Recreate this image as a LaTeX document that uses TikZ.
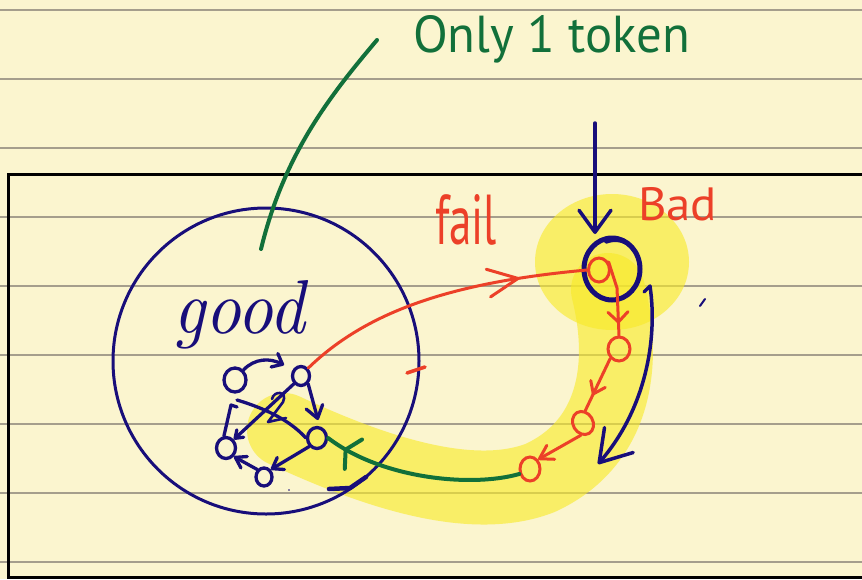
\documentclass[tikz,border=0pt]{standalone}
\usepackage{fontspec}
\usepackage{graphicx}
\newfontfamily\handsans{PT Sans}
\usetikzlibrary{arrows.meta,shapes.geometric,decorations.markings}

\definecolor{paper}{RGB}{251,245,207}
\definecolor{ruling}{RGB}{165,158,140}
\definecolor{navy}{RGB}{24,14,122}
\definecolor{inkred}{RGB}{236,64,40}
\definecolor{inkgreen}{RGB}{18,112,58}
\definecolor{marker}{RGB}{248,234,40}

\tikzset{
  ink/.style={line width=3.3pt, line cap=round, line join=round},
  navyink/.style={ink, draw=navy},
  redink/.style={ink, draw=inkred, line width=3pt},
  greenink/.style={ink, draw=inkgreen, line width=4pt},
  gnode/.style={ellipse, draw=navy, line width=3.3pt, inner sep=0pt,
                minimum width=#1, minimum height=#1+2pt},
  rnode/.style={ellipse, draw=inkred, line width=3pt, inner sep=0pt,
                minimum width=20pt, minimum height=24pt},
  highlight/.style={fill=marker, fill opacity=0.62},
  label text/.style={anchor=base west, inner sep=0pt, outer sep=0pt},
  midtip/.style n args={3}{postaction={decorate, decoration={markings,
      mark=at position #1 with {\arrow[#2]{Straight Barb[#3,round]}}}}},
}

\begin{document}
\begin{tikzpicture}[x=1pt, y=-1pt]
  \useasboundingbox (0,0) rectangle (862,579);

  % ruled notebook paper
  \fill[paper] (0,0) rectangle (862,579);
  \foreach \yy in {10,79,148,217,286,355,424,493,562}
    \draw[ruling, line width=1.3pt] (0,\yy) -- (862,\yy);

  % black frame (open to the right)
  \draw[black, line width=3pt] (862,174) -- (8,174) -- (8,577) -- (862,577);

  % highlighter strokes
  \fill[highlight] (612,262) ellipse [x radius=77, y radius=68];
  \draw[draw=marker, draw opacity=0.62, line width=74pt, line cap=round]
    (608,290) .. controls (628,370) and (612,445) .. (540,478)
              .. controls (470,505) and (370,470) .. (284,430);

  % the big "good" region
  \node[circle, draw=navy, line width=3pt, minimum size=306pt, inner sep=0pt] (goodset) at (266,361) {};
  \node[label text, text=navy] (goodlbl) at (173,333) {\resizebox{132pt}{53pt}{\itshape good}};
  \draw[navy, line width=4.5pt, line cap=round] (329,489) -- (350,488) -- (366,477);

  % nodes of the small graph
  \node[gnode=22pt] (n1) at (235,380) {};
  \node[gnode=17pt] (n2) at (301,376) {};
  \node[gnode=19pt] (n3) at (317,438) {};
  \node[gnode=19pt] (n4) at (226,448) {};
  \node[gnode=16pt] (n5) at (264,477) {};
  \coordinate (n1tip) at (284,365);
  \coordinate (n2tip) at (318,420);
  \coordinate (bend) at (231,405);

  \draw[navyink, -{Straight Barb[length=9pt,width=15pt,round]}]
    (n1.50) .. controls (255,358) and (270,358) .. (n1tip);
  \draw[navyink, -{Straight Barb[length=12pt,width=17pt,round]}]
    (n2.south east) -- (n2tip);
  \draw[navyink, -{Straight Barb[length=10pt,width=14pt,round]}]
    (n3.south west) -- (n5.north east);
  \draw[navyink, -{Straight Barb[length=10pt,width=13pt,round]}]
    (n5.north west) -- (n4.south east);
  \draw[navyink, -{Straight Barb[length=7pt,width=10pt,round]}]
    (n2.south west) -- (n4.north east);
  \draw[navyink] (n4.100) -- (bend) -- (237,407);
  \draw[navyink] (237,400) .. controls (260,407) and (288,418) .. (n3.west);
  \draw[navyink, line width=2.6pt]
    (272,399) .. controls (274,390) and (288,391) .. (283,402) -- (268,422) -- (286,418);

  % the bad state
  \node[ellipse, draw=navy, line width=5pt, minimum width=56pt, minimum height=62pt, inner sep=0pt] (bad) at (612,269) {};
  \draw[navy, line width=3.5pt, line cap=round] (606,242) .. controls (625,235) and (641,250) .. (640,273);
  \node[label text, text=inkred] (badlbl) at (638,220) {\resizebox{79pt}{33pt}{\handsans Bad}};
  \coordinate (intop) at (595,123);
  \coordinate (inend) at (595,234);
  \draw[navyink, line width=3.5pt, -{Straight Barb[length=22pt,width=32pt,round]}] (intop) -- (inend);

  % the chain of bad states
  \node[rnode, minimum width=21pt] (ra) at (599,270) {};
  \node[rnode, minimum width=22pt] (r2) at (619,349) {};
  \node[rnode, rotate=30] (r3) at (583,423) {};
  \node[rnode] (r4) at (530,469) {};
  \draw[redink, midtip={-12pt}{inkred, line width=3pt}{length=10pt,width=20pt}]
    (ra.40) -- (617,288) -- (r2.north);
  \draw[redink, midtip={-17pt}{inkred, line width=3pt}{length=11pt,width=16pt}]
    (r2.south west) -- (r3.north east);
  \draw[redink, -{Straight Barb[length=13pt,width=16pt,round]}]
    (r3.south west) -- (r4.north east);

  % failing move out of the good region
  \node[label text, text=inkred] (faillbl) at (435,244) {\resizebox{62pt}{50pt}{\handsans fail}};
  \draw[redink, midtip={-68pt}{inkred, line width=3pt}{length=30pt,width=28pt}]
    (n2.north east) .. controls (368,310) and (455,282) .. (ra.west);
  \draw[redink, line width=3.5pt] (407,373) -- (425,367);

  % drift back down the chain
  \coordinate (drifttop) at (644,292);
  \coordinate (drifthook) at (650,286);
  \coordinate (driftend) at (598,464);
  \draw[navyink, line width=3.5pt, -{Straight Barb[length=30pt,width=38pt,round]}]
    (drifttop) -- (drifthook) .. controls (658,340) and (645,410) .. (driftend);

  % recovery back into the good region
  \draw[greenink, midtip={-19pt}{inkgreen, line width=4pt}{length=9pt,width=34pt}]
    (r4.205) .. controls (470,488) and (380,478) .. (n3.east);

  % note pointing at the good region
  \node[label text, text=inkgreen] (note) at (413,52) {\resizebox{277pt}{37pt}{\handsans Only 1 token}};
  \coordinate (notefrom) at (377,40);
  \coordinate (noteto) at (261,249);
  \draw[greenink] (notefrom) .. controls (328,98) and (284,155) .. (noteto);

  % stray pen marks
  \draw[navy, line width=2pt, line cap=round] (700,306) -- (705,299);
  \fill[navy] (289,490) circle (0.9);
\end{tikzpicture}
\end{document}
